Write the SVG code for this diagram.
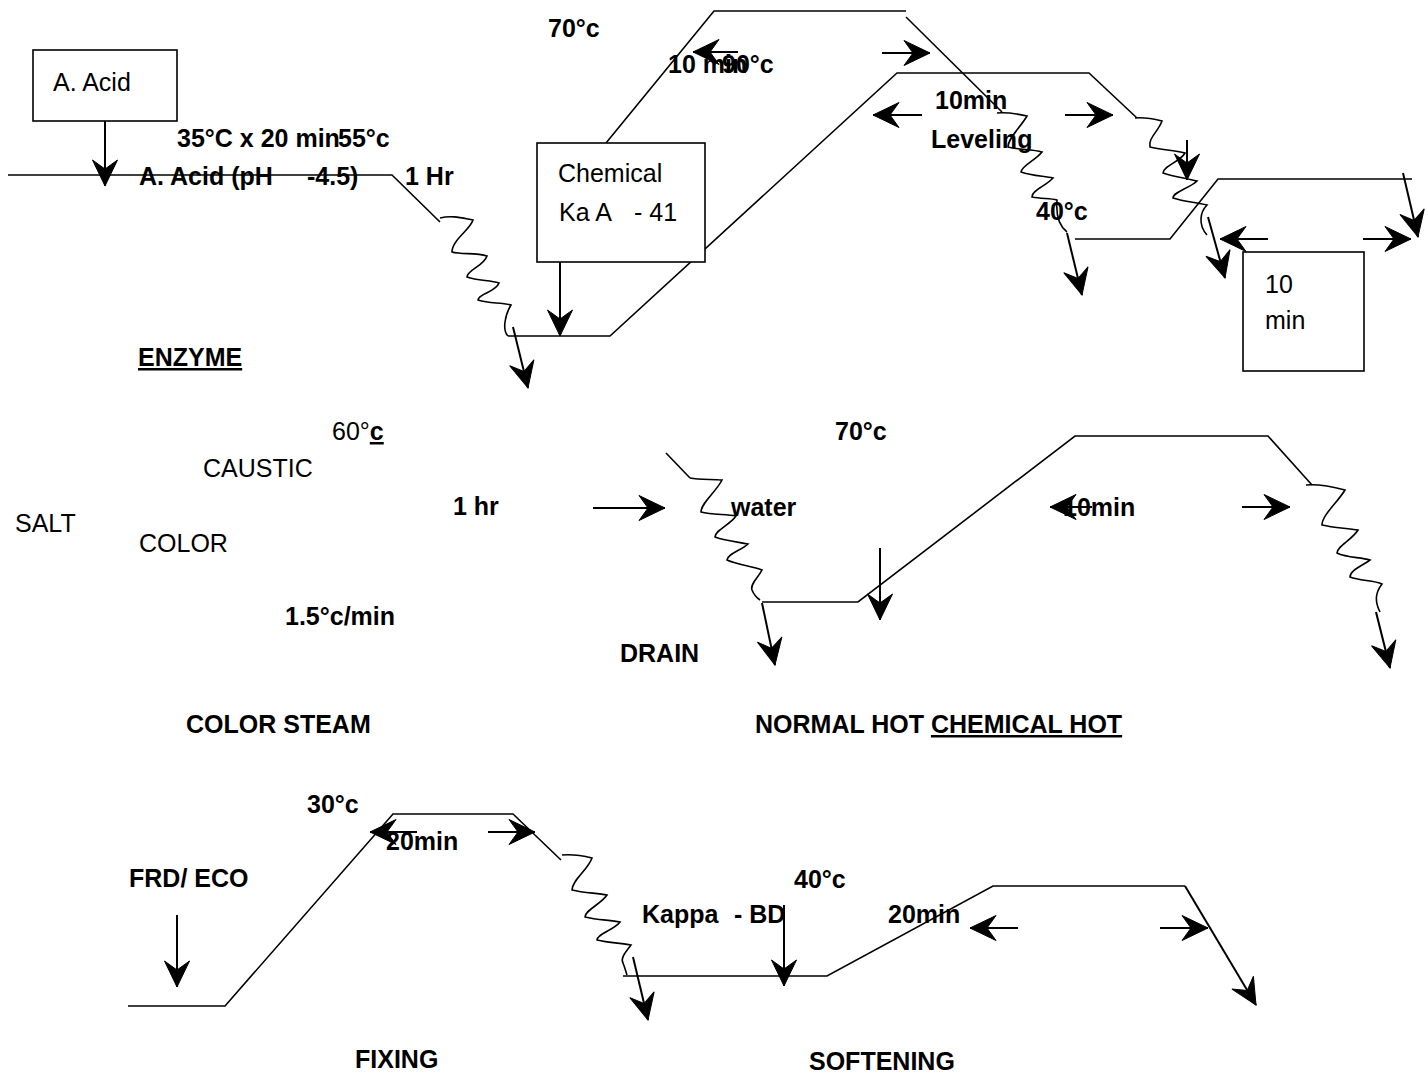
<svg xmlns="http://www.w3.org/2000/svg" width="1425" height="1077" viewBox="0 0 1425 1077">
<style>
text{font-family:"Liberation Sans",Arial,sans-serif;font-size:25px;fill:#000}
.b{font-weight:bold}
.ln{fill:none;stroke:#000;stroke-width:1.6}
.ar{fill:none;stroke:#000;stroke-width:2;marker-end:url(#ah)}
.box{fill:#fff;stroke:#000;stroke-width:1.6}
</style>
<defs>
<marker id="ah" viewBox="-28 -14 30 28" refX="0" refY="0" markerWidth="30" markerHeight="28" markerUnits="userSpaceOnUse" orient="auto">
<path d="M0,0 L-26,-12.5 L-17,0 L-26,12.5 Z" fill="#000" stroke="#000" stroke-width="1" stroke-linejoin="miter"/>
</marker>
</defs>
<rect width="1425" height="1077" fill="#fff"/>
<g id="connectors">
<polyline class="ln" points="8,175 392,175 440,222"/>
<path class="ln" d="M440,218 C452,215 462,218 473,220 C470,230 452,240 452,252 C462,255 476,252 487,256 C484,266 467,270 467,277 C478,281 490,280 499,283 C496,292 478,294 478,300 C490,304 500,302 511,305 C505,315 502,330 508,336"/>
<line class="ar" x1="513" y1="327" x2="528" y2="388"/>
<polyline class="ln" points="508,336 610,336 897,73 1089,73 1137,118"/>
<polyline class="ln" points="606,143 714,11 906,11"/>
<line class="ln" x1="906" y1="17" x2="1002" y2="112"/>
<path class="ln" d="M997,113 C1008,112 1018,114 1027,116 C1020,128 1008,138 1008,147 C1020,150 1032,149 1042,152 C1036,160 1021,166 1021,172 C1032,176 1044,176 1053,178 C1046,186 1032,190 1032,197 C1042,199 1050,198 1057,200 C1056,212 1058,225 1067,232"/>
<line class="ar" x1="1067" y1="233" x2="1082" y2="295"/>
<path class="ln" d="M1135,118 C1146,117 1154,119 1162,121 C1158,132 1148,138 1150,147 C1162,150 1174,150 1185,153 C1180,162 1163,166 1163,173 C1175,177 1186,178 1197,181 C1190,188 1173,192 1173,198 C1185,202 1196,202 1207,205 C1200,212 1198,225 1207,235"/>
<line class="ar" x1="1187" y1="140" x2="1187" y2="180"/>
<line class="ar" x1="1208" y1="217" x2="1225" y2="278"/>
<polyline class="ln" points="1075,239 1170,239 1218,179 1412,179"/>
<line class="ar" x1="1403" y1="173" x2="1418" y2="237"/>
<line class="ar" x1="105" y1="121" x2="105" y2="186"/>
<line class="ar" x1="560" y1="262" x2="560" y2="336"/>
<line class="ar" x1="738" y1="52" x2="693" y2="52"/>
<line class="ar" x1="882" y1="53" x2="930" y2="53"/>
<line class="ar" x1="922" y1="115" x2="873" y2="115"/>
<line class="ar" x1="1065" y1="115" x2="1113" y2="115"/>
<line class="ar" x1="1268" y1="239" x2="1220" y2="239"/>
<line class="ar" x1="1363" y1="239" x2="1411" y2="239"/>
<line class="ar" x1="593" y1="508" x2="665" y2="508"/>
<line class="ln" x1="666" y1="453" x2="690" y2="478"/>
<path class="ln" d="M690,478 C700,480 712,479 722,480 C716,492 701,503 701,512 C712,515 726,514 736,516 C730,525 715,530 715,537 C726,541 738,542 748,544 C742,550 727,554 727,560 C738,565 752,566 762,570 C758,578 750,584 752,590 C754,595 757,598 760,600"/>
<polyline class="ln" points="762,602 858,602 1075,436 1268,436 1312,485"/>
<path class="ln" d="M1306,485 C1318,484 1330,486 1345,490 C1338,502 1322,515 1322,525 C1334,528 1347,528 1358,530 C1352,540 1337,546 1337,553 C1347,558 1360,557 1370,560 C1362,566 1350,570 1350,577 C1360,581 1374,580 1382,584 C1376,592 1374,600 1380,612"/>
<line class="ar" x1="1376" y1="612" x2="1390" y2="668"/>
<line class="ar" x1="762" y1="603" x2="775" y2="665"/>
<line class="ar" x1="880" y1="548" x2="880" y2="620"/>
<line class="ar" x1="1092" y1="507" x2="1050" y2="507"/>
<line class="ar" x1="1242" y1="507" x2="1290" y2="507"/>
<polyline class="ln" points="128,1006 225,1006 393,814 513,814 561,860"/>
<path class="ln" d="M562,855 C574,854 584,856 592,858 C588,870 572,880 572,890 C584,893 597,893 607,895 C600,905 585,910 585,917 C597,920 610,920 620,922 C614,930 597,934 597,940 C609,943 622,943 631,945 C626,952 620,958 623,963 C625,968 626,972 627,975"/>
<polyline class="ln" points="623,976 827,976 993,886 1185,886"/>
<line class="ar" x1="1185" y1="886" x2="1256" y2="1005"/>
<line class="ar" x1="633" y1="957" x2="648" y2="1020"/>
<line class="ar" x1="177" y1="915" x2="177" y2="987"/>
<line class="ar" x1="784" y1="905" x2="784" y2="986"/>
<line class="ar" x1="417" y1="832" x2="370" y2="832"/>
<line class="ar" x1="488" y1="832" x2="535" y2="832"/>
<line class="ar" x1="1018" y1="928" x2="970" y2="928"/>
<line class="ar" x1="1160" y1="928" x2="1208" y2="928"/>
</g>
<g id="node-acid">
<rect class="box" x="33" y="50" width="144" height="71"/>
<text x="53" y="91">A. Acid</text>
</g>
<g id="node-chemical">
<rect class="box" x="537" y="143" width="168" height="119"/>
<text x="558" y="182">Chemical</text>
<text x="559" y="221">Ka A</text>
<text x="634" y="221">- 41</text>
</g>
<g id="node-10min">
<rect class="box" x="1243" y="252" width="121" height="119"/>
<text x="1265" y="293">10</text>
<text x="1265" y="329">min</text>
</g>
<g id="labels">
<text class="b" x="548" y="37">70°c</text>
<text class="b" x="668" y="73">10 min</text>
<text class="b" x="722" y="73">90°c</text>
<text class="b" x="935" y="109">10min</text>
<text class="b" x="931" y="148">Leveling</text>
<text class="b" x="177" y="147">35°C x 20 min</text>
<text class="b" x="338" y="147">55°c</text>
<text class="b" x="139" y="185">A. Acid (pH</text>
<text class="b" x="307" y="185">-4.5)</text>
<text class="b" x="405" y="185">1 Hr</text>
<text class="b" x="1036" y="220">40°c</text>
<text class="b" x="138" y="366" text-decoration="underline">ENZYME</text>
<text x="332" y="440">60°<tspan class="b" text-decoration="underline">c</tspan></text>
<text class="b" x="835" y="440">70°c</text>
<text x="203" y="477">CAUSTIC</text>
<text class="b" x="453" y="515">1 hr</text>
<text class="b" x="731" y="516">water</text>
<text class="b" x="1063" y="516">10min</text>
<text x="15" y="532">SALT</text>
<text x="139" y="552">COLOR</text>
<text class="b" x="285" y="625">1.5°c/min</text>
<text class="b" x="620" y="662">DRAIN</text>
<text class="b" x="186" y="733">COLOR STEAM</text>
<text class="b" x="755" y="733">NORMAL HOT <tspan text-decoration="underline">CHEMICAL HOT</tspan></text>
<text class="b" x="307" y="813">30°c</text>
<text class="b" x="386" y="850">20min</text>
<text class="b" x="129" y="887">FRD/ ECO</text>
<text class="b" x="794" y="888">40°c</text>
<text class="b" x="642" y="923">Kappa</text>
<text class="b" x="734" y="923">- BD</text>
<text class="b" x="888" y="923">20min</text>
<text class="b" x="355" y="1068">FIXING</text>
<text class="b" x="809" y="1070">SOFTENING</text>
</g>
</svg>
